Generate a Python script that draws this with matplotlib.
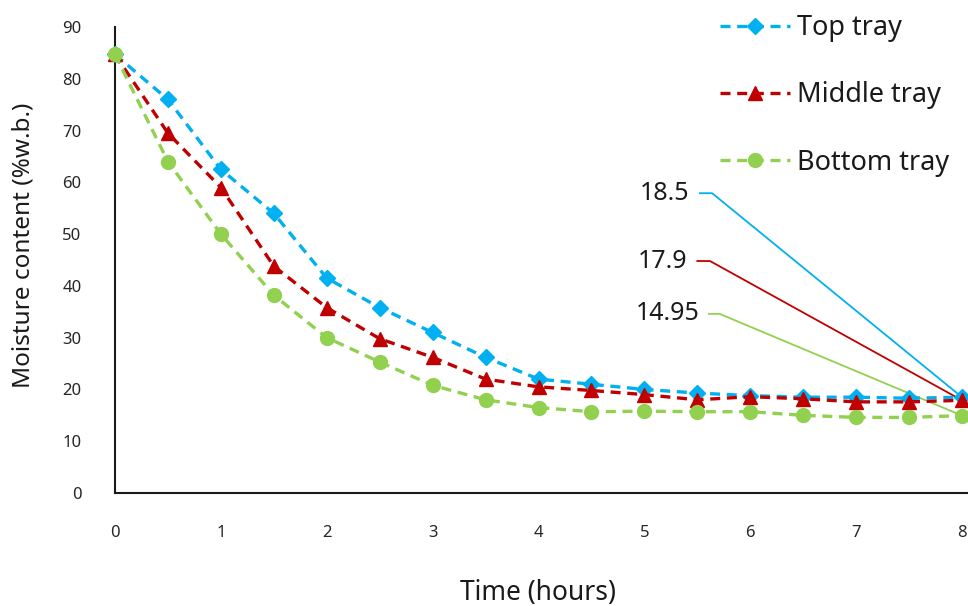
import numpy as np
import matplotlib
matplotlib.use('Agg')
from matplotlib import pyplot as plt

plt.rcParams['font.family'] = ['Noto Sans', 'DejaVu Sans']

# drying time (hours), readings every half hour
time_h = [0, 0.5, 1, 1.5, 2, 2.5, 3, 3.5, 4, 4.5, 5, 5.5, 6, 6.5, 7, 7.5, 8]
top_tray = [84.7, 76, 62.5, 54, 41.5, 35.8, 31, 26.2, 22, 21, 20, 19.3, 18.8, 18.5, 18.5, 18.3, 18.5]
middle_tray = [84.7, 69.5, 59, 43.8, 35.8, 29.8, 26.2, 22, 20.5, 19.8, 19, 18, 18.6, 18.2, 17.6, 17.6, 17.9]
bottom_tray = [84.7, 64, 50, 38.2, 30, 25.3, 20.8, 18, 16.5, 15.7, 15.8, 15.7, 15.7, 15, 14.6, 14.6, 14.95]
final_labels = ['18.5', '17.9', '14.95']

series = [
    ('Top tray', top_tray, '#00B0F0', 'D', 8),
    ('Middle tray', middle_tray, '#C00000', '^', 10),
    ('Bottom tray', bottom_tray, '#92D050', 'o', 10),
]

fig = plt.figure(figsize=(9.68, 6.06), dpi=100)
ax = fig.add_axes([115/968, 1 - 493/606, 1 - 115/968, (493 - 27)/606])

for name, vals, col, mk, ms in series:
    ax.plot(time_h, vals, linestyle=(0, (3, 2)), lw=2.4, color=col,
            marker=mk, markersize=ms, label=name, clip_on=False, zorder=3)

# data labels for the final reading, with leader lines
label_pos = [(5.43, 57.9, 5.525, 5.64), (5.41, 44.8, 5.50, 5.62), (5.52, 34.6, 5.61, 5.71)]
for (name, vals, col, mk, ms), txt, (tx, ty, l0, l1) in zip(series, final_labels, label_pos):
    ax.text(tx, ty, txt, ha='right', va='center', fontsize=18, color='#1a1a1a')
    ax.plot([l0, l1, time_h[-1]], [ty, ty, vals[-1]], color=col, lw=1.3,
            clip_on=False, zorder=2)

ax.set_xlim(0, 8 * (968 - 115) / (962 - 115))
ax.set_ylim(0, 90)
ax.set_xticks(range(0, 9))
ax.set_yticks(range(0, 91, 10))
ax.tick_params(length=0, labelsize=12, labelcolor='#262626')
ax.tick_params(axis='x', pad=23)
ax.tick_params(axis='y', pad=24)
for s in ['top', 'right']:
    ax.spines[s].set_visible(False)
for s in ['left', 'bottom']:
    ax.spines[s].set_color('#1a1a1a')
    ax.spines[s].set_linewidth(1.5)

ax.set_xlabel('Time (hours)', fontsize=19, color='#1a1a1a')
ax.xaxis.set_label_coords((538 - 115) / (968 - 115), -(579 - 493) / (493 - 27))
ax.set_ylabel('Moisture content (%w.b.)', fontsize=17.5, color='#1a1a1a')
ax.yaxis.set_label_coords(-(115 - 36) / (968 - 115), (493 - 245) / (493 - 27))

leg = fig.legend(loc='upper left', bbox_to_anchor=(720/968, 1 - 14/606), frameon=False,
                 fontsize=19.5, handlelength=2.6, labelspacing=1.45, handletextpad=0.25,
                 borderpad=0, borderaxespad=0)
for t in leg.get_texts():
    t.set_color('#1a1a1a')

plt.savefig('out.png', dpi=100)
